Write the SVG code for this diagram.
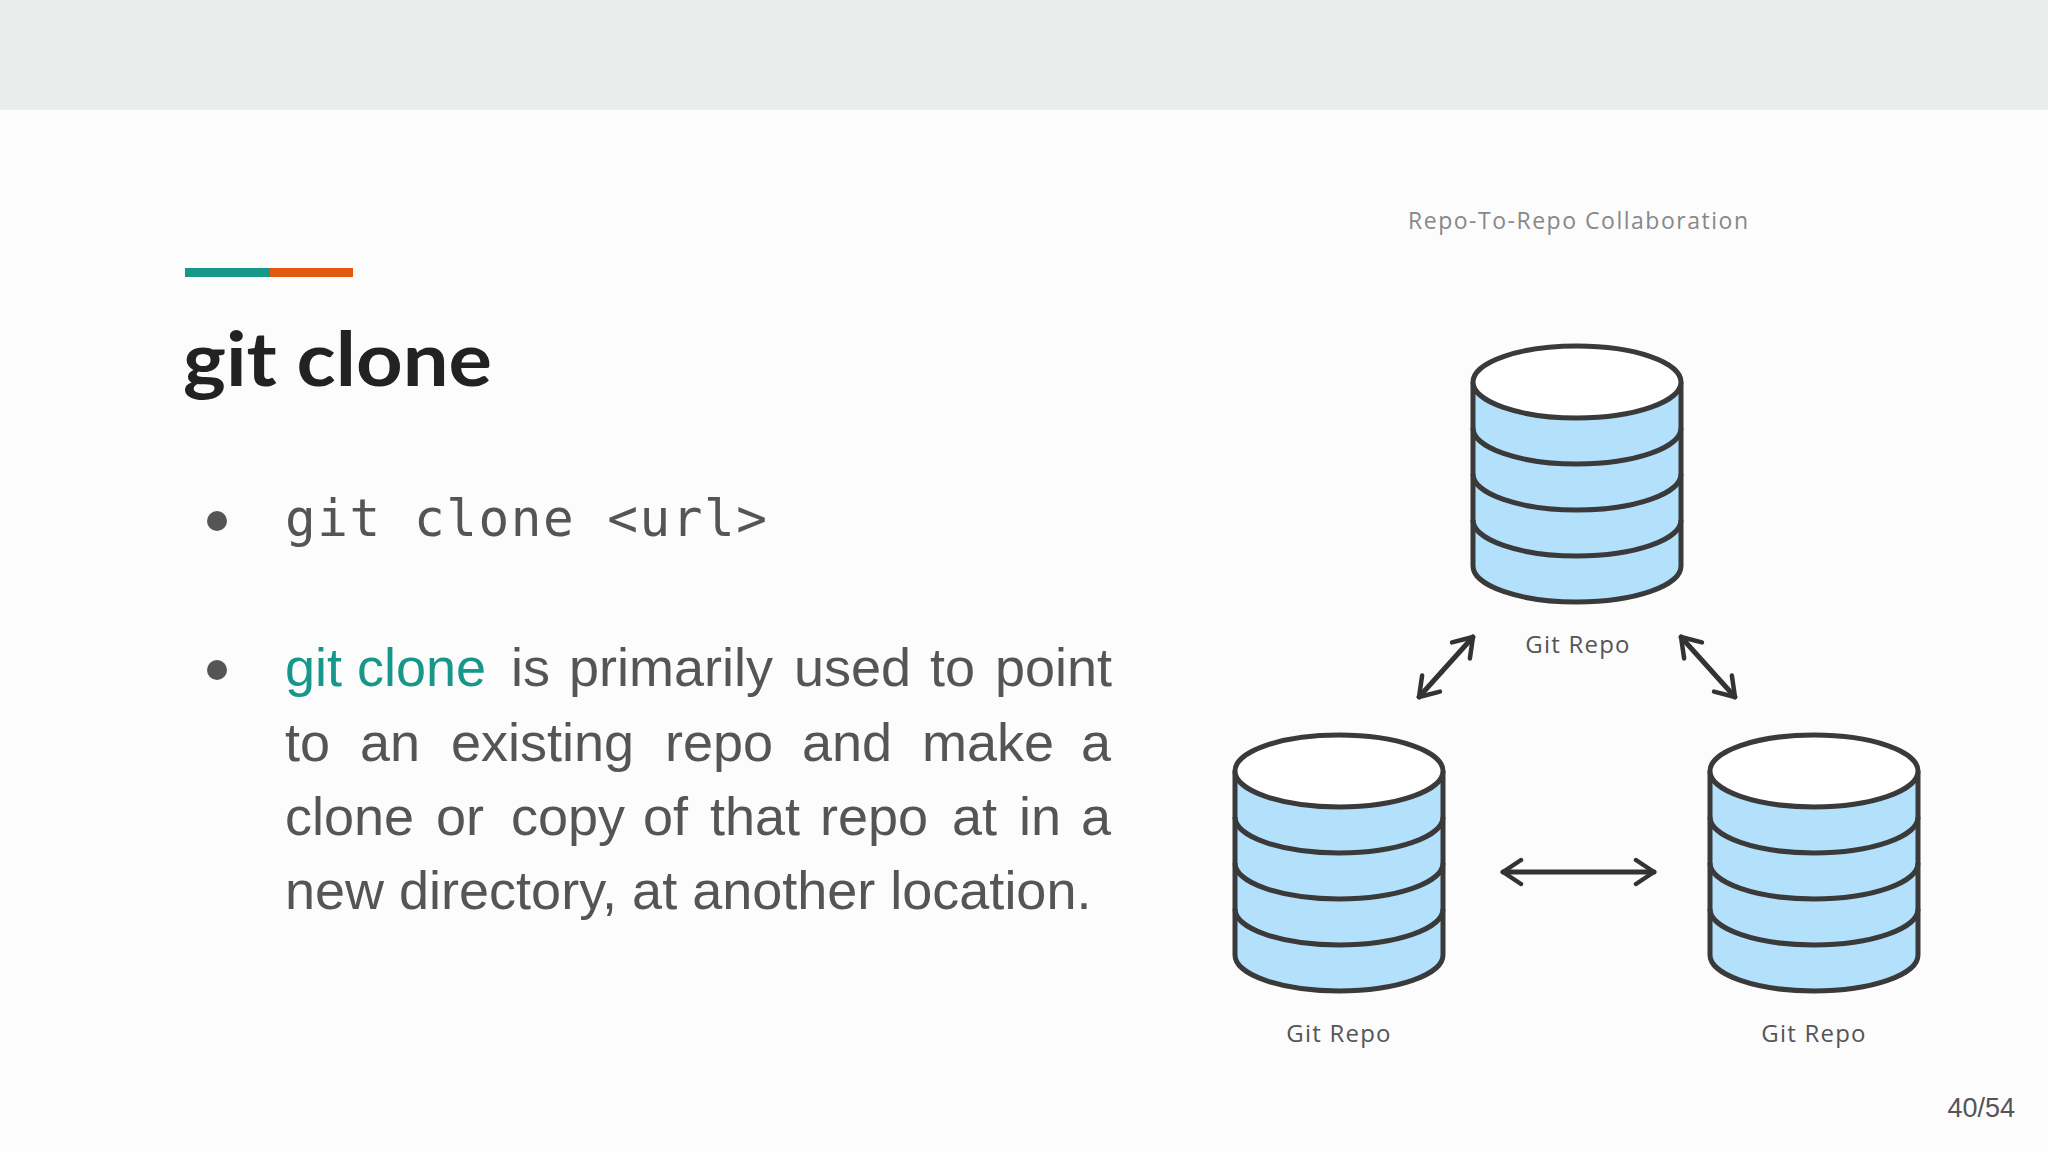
<svg xmlns="http://www.w3.org/2000/svg" width="2048" height="1152" viewBox="0 0 2048 1152">
<style>
.cyl{stroke:#3a3a3a;stroke-width:5;fill:none;stroke-linejoin:round}
.lbl{font-family:"Open Sans","Liberation Sans",sans-serif;font-size:24px;fill:#555;text-anchor:middle;letter-spacing:1.2px}
.body{font-family:"Liberation Sans",Arial,sans-serif;font-size:54px;fill:#555}
.arr{stroke:#333;stroke-width:5;fill:none;stroke-linecap:round;stroke-linejoin:round}
</style>
<defs>
<g id="cyl">
<path d="M-104,0 V184 A104,36 0 0 0 104,184 V0 Z" fill="#b3e0fb"/>
<path class="cyl" d="M-104,0 V184 A104,36 0 0 0 104,184 V0"/>
<path class="cyl" d="M-104,46 A104,36 0 0 0 104,46 M-104,92 A104,36 0 0 0 104,92 M-104,138 A104,36 0 0 0 104,138"/>
<ellipse cx="0" cy="0" rx="104" ry="36" class="cyl" style="fill:#fff"/>
</g>
<marker id="h" viewBox="0 0 20 20" refX="14" refY="10" markerWidth="6" markerHeight="6" orient="auto-start-reverse" markerUnits="strokeWidth">
<path d="M2,2 L14,10 L2,18" fill="none" stroke="#333" stroke-width="3" stroke-linecap="round" stroke-linejoin="round"/>
</marker>
</defs>
<rect width="2048" height="1152" fill="#fcfcfc"/>
<rect width="2048" height="110" fill="#e9eeed"/>
<rect x="185" y="268" width="85" height="9" fill="#16978a"/>
<rect x="270" y="268" width="83" height="9" fill="#e3590f"/>
<text x="183" y="386" font-family="Lato,'Liberation Sans',sans-serif" font-weight="bold" font-size="74" fill="#222" textLength="309" lengthAdjust="spacingAndGlyphs">git clone</text>
<circle cx="217" cy="521" r="10" fill="#555"/>
<text x="285" y="536" font-family="'DejaVu Sans Mono','Liberation Mono',monospace" font-size="51" fill="#555" textLength="482">git clone &lt;url&gt;</text>
<circle cx="217" cy="670" r="10" fill="#555"/>
<text class="body" y="686"><tspan x="285" fill="#16978a">git clone</tspan><tspan x="511">is</tspan><tspan x="569">primarily</tspan><tspan x="794">used</tspan><tspan x="930">to</tspan><tspan x="995">point</tspan></text>
<text class="body" y="761"><tspan x="285">to</tspan><tspan x="360">an</tspan><tspan x="451">existing</tspan><tspan x="665">repo</tspan><tspan x="802">and</tspan><tspan x="922">make</tspan><tspan x="1081">a</tspan></text>
<text class="body" y="835"><tspan x="285">clone</tspan><tspan x="436">or</tspan><tspan x="511">copy</tspan><tspan x="643">of</tspan><tspan x="710">that</tspan><tspan x="820">repo</tspan><tspan x="952">at</tspan><tspan x="1019">in</tspan><tspan x="1081">a</tspan></text>
<text class="body" x="285" y="909">new directory, at another location.</text>
<text x="1408" y="229" font-family="'Open Sans','Liberation Sans',sans-serif" font-size="23" fill="#888" textLength="340">Repo-To-Repo Collaboration</text>
<g id="repo-top"><use href="#cyl" x="1577" y="382"/><text class="lbl" x="1578" y="653">Git Repo</text></g>
<g id="repo-left"><use href="#cyl" x="1339" y="771"/><text class="lbl" x="1339" y="1042">Git Repo</text></g>
<g id="repo-right"><use href="#cyl" x="1814" y="771"/><text class="lbl" x="1814" y="1042">Git Repo</text></g>
<g id="connectors">
<line class="arr" x1="1419" y1="697" x2="1473" y2="637" marker-start="url(#h)" marker-end="url(#h)"/>
<line class="arr" x1="1681" y1="637" x2="1735" y2="697" marker-start="url(#h)" marker-end="url(#h)"/>
<line class="arr" x1="1503" y1="872" x2="1654" y2="872" marker-start="url(#h)" marker-end="url(#h)"/>
</g>
<text x="2015" y="1117" font-family="'Liberation Sans',sans-serif" font-size="27" fill="#555" text-anchor="end">40/54</text>
</svg>
